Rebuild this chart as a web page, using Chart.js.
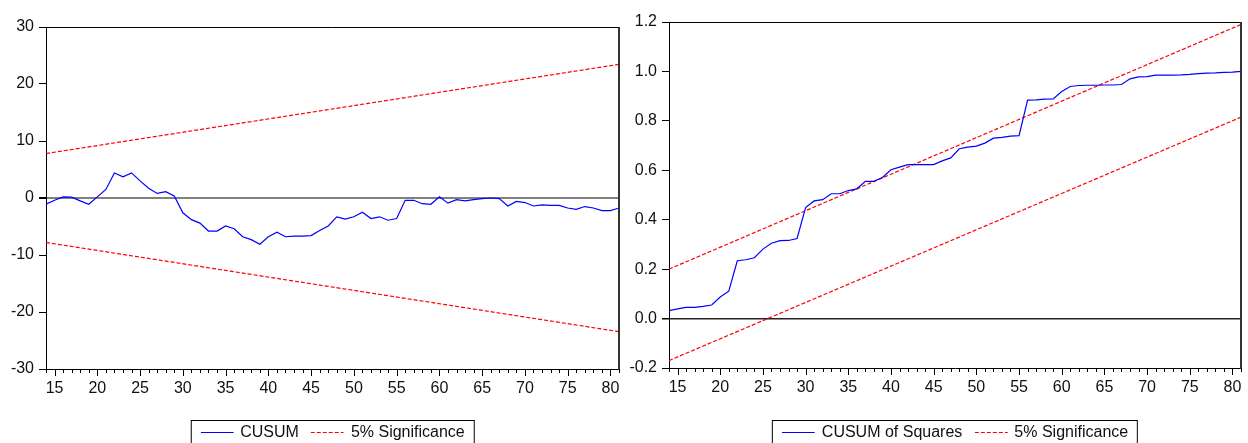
<!DOCTYPE html>
<html>
<head>
<meta charset="utf-8">
<title>CUSUM tests</title>
<script src="https://cdn.jsdelivr.net/npm/chart.js@4/dist/chart.umd.min.js"></script>
<style>
  body { margin: 0; background: #fff; }
  #wrap { position: relative; width: 1248px; height: 443px; overflow: hidden; }
  .panel { position: absolute; top: 0; width: 624px; height: 443px; }
  .legend {
    position: absolute;
    top: 420px;
    height: 40px;
    transform: translateX(-50%);
    border: 1px solid #000;
    box-sizing: border-box;
    padding: 1px 9px 0 9px;
    display: flex;
    white-space: nowrap;
    font: 16px Arial, "Liberation Sans", sans-serif;
    line-height: 19px;
    color: #111;
  }
  .legend-item { display: flex; align-items: center; height: 19px; margin-right: 12px; }
  .legend-item:last-child { margin-right: 0; }
  .legend-swatch { display: block; width: 33px; height: 18px; margin-right: 7px; }
</style>
</head>
<body>
<div id="wrap">
  <div class="panel" style="left:0"><canvas id="cusumChart" width="624" height="443"></canvas></div>
  <div class="panel" style="left:624px"><canvas id="cusumSqChart" width="624" height="443"></canvas></div>
  <div class="legend" id="cusumLegend"></div>
  <div class="legend" id="cusumSqLegend"></div>
</div>

<script>
// =============== DATA ===============

// observation index on the x axis
const obs = [
  14, 15, 16, 17, 18, 19, 20, 21, 22, 23, 24, 25, 26, 27, 28, 29, 30,
  31, 32, 33, 34, 35, 36, 37, 38, 39, 40, 41, 42, 43, 44, 45, 46, 47,
  48, 49, 50, 51, 52, 53, 54, 55, 56, 57, 58, 59, 60, 61, 62, 63, 64,
  65, 66, 67, 68, 69, 70, 71, 72, 73, 74, 75, 76, 77, 78, 79, 80, 81,
];

// CUSUM (left panel)
const cusum = [
  -1.1, -0.4, 0.2, 0.15, -0.5, -1.1, 0.2, 1.5, 4.4, 3.7, 4.4, 3.0, 1.7, 0.8, 1.1, 0.35, -2.6,
  -3.8, -4.4, -5.8, -5.8, -4.9, -5.4, -6.8, -7.3, -8.1, -6.8, -6.0, -6.8, -6.7, -6.7, -6.6, -5.7, -4.9,
  -3.3, -3.7, -3.3, -2.5, -3.6, -3.3, -3.9, -3.6, -0.4, -0.4, -1.0, -1.1, 0.2, -0.9, -0.3, -0.5, -0.3,
  -0.1, 0.0, -0.1, -1.4, -0.6, -0.8, -1.4, -1.2, -1.3, -1.3, -1.75, -2.0, -1.5, -1.75, -2.2, -2.2, -1.75,
];

// CUSUM of squares (right panel)
const cusumSq = [
  0.032, 0.039, 0.045, 0.045, 0.049, 0.055, 0.087, 0.111, 0.234, 0.238, 0.246, 0.281, 0.305, 0.315, 0.316, 0.324, 0.449,
  0.476, 0.481, 0.505, 0.505, 0.518, 0.525, 0.555, 0.555, 0.571, 0.602, 0.613, 0.623, 0.623, 0.623, 0.623, 0.638, 0.65,
  0.687, 0.694, 0.698, 0.71, 0.73, 0.733, 0.738, 0.74, 0.884, 0.885, 0.888, 0.889, 0.919, 0.939, 0.943, 0.944, 0.944,
  0.945, 0.945, 0.947, 0.97, 0.978, 0.979, 0.985, 0.985, 0.985, 0.986, 0.988, 0.991, 0.993, 0.994, 0.996, 0.997, 1.0,
];

// 5% significance bands (straight lines, first and last observation)
const bandObs = [14, 81];
const cusumUpper = [7.8, 23.45];
const cusumLower = [-7.8, -23.45];
const cusumSqUpper = [0.2, 1.19];
const cusumSqLower = [-0.17, 0.815];

// axis ranges / tick labels
const cusumTicks = [-30, -20, -10, 0, 10, 20, 30];
const cusumSqTicks = [-0.2, 0.0, 0.2, 0.4, 0.6, 0.8, 1.0, 1.2];

const LINE_BLUE = "#0000ff";
const BAND_RED = "#ff0000";


// =============== HELPERS ===============

Chart.defaults.font.family = "Arial, 'Liberation Sans', sans-serif";
Chart.defaults.font.size = 16;
Chart.defaults.color = "#111";

function toPoints(xs, ys) {
  return xs.map((x, i) => ({ x, y: ys[i] }));
}

// frame on top / right + short minor ticks on the x axis
const frameAndTicks = {
  id: "frameAndTicks",
  afterDraw(chart) {
    const { ctx, chartArea: a, scales } = chart;
    ctx.save();
    ctx.strokeStyle = "#000";
    ctx.lineWidth = 1;
    ctx.beginPath();
    ctx.moveTo(a.left, Math.round(a.top) + 0.5);
    ctx.lineTo(a.right, Math.round(a.top) + 0.5);
    ctx.stroke();

    ctx.strokeStyle = "#333";
    ctx.lineWidth = 2;
    ctx.beginPath();
    ctx.moveTo(Math.round(a.right), a.top);
    ctx.lineTo(Math.round(a.right), a.bottom + 1);
    ctx.stroke();

    ctx.strokeStyle = "#000";
    ctx.lineWidth = 1;
    scales.x.ticks.forEach((t) => {
      const px = Math.round(scales.x.getPixelForValue(t.value)) + 0.5;
      const len = t.value % 5 === 0 ? 7 : 4;
      ctx.beginPath();
      ctx.moveTo(px, a.bottom);
      ctx.lineTo(px, a.bottom + len);
      ctx.stroke();
    });
    ctx.restore();
  },
};

function makeOptions(cfg) {
  return {
    responsive: false,
    animation: false,
    layout: { padding: { top: cfg.top, right: cfg.right, left: 0, bottom: 0 } },
    plugins: { legend: { display: false }, tooltip: { enabled: false } },
    elements: { point: { radius: 0 }, line: { tension: 0 } },
    scales: {
      x: {
        type: "linear",
        min: 14,
        max: 81,
        afterFit: (s) => { s.height = cfg.xHeight; },
        border: { display: true, color: "#000", width: 1 },
        grid: { drawOnChartArea: false, tickLength: 7, tickColor: "transparent" },
        ticks: {
          stepSize: 1,
          autoSkip: false,
          maxRotation: 0,
          padding: 3,
          callback: (v) => (v % 5 === 0 ? String(v) : ""),
        },
      },
      y: {
        min: cfg.ticks[0],
        max: cfg.ticks[cfg.ticks.length - 1],
        afterFit: (s) => { s.width = cfg.yWidth; },
        afterBuildTicks: (s) => { s.ticks = cfg.ticks.map((v) => ({ value: v })); },
        border: { display: true, color: "#000", width: 1 },
        grid: {
          tickLength: 7,
          tickColor: "#000",
          color: (c) => (Math.abs(c.tick.value) < 1e-9 ? cfg.zeroColor : "transparent"),
          lineWidth: (c) => (Math.abs(c.tick.value) < 1e-9 ? cfg.zeroWidth : 1),
        },
        ticks: { padding: 5, callback: cfg.fmt },
      },
    },
  };
}

// small svg line sample for the legend
function swatchSvg(color, dashed) {
  const dash = dashed ? ' stroke-dasharray="4 2"' : "";
  return `<svg width="33" height="18" xmlns="http://www.w3.org/2000/svg">` +
    `<line x1="0" y1="9.5" x2="33" y2="9.5" stroke="${color}" stroke-width="1"${dash}/></svg>`;
}

function buildLegend(chart, el, panelLeft) {
  const seen = new Set();
  el.innerHTML = "";
  chart.data.datasets.forEach((ds) => {
    if (seen.has(ds.label)) return;
    seen.add(ds.label);
    const item = document.createElement("span");
    item.className = "legend-item";
    const swatch = document.createElement("span");
    swatch.className = "legend-swatch";
    swatch.innerHTML = swatchSvg(ds.swatchColor, ds.swatchDashed);
    const text = document.createElement("span");
    text.textContent = ds.label;
    item.appendChild(swatch);
    item.appendChild(text);
    el.appendChild(item);
  });
  const a = chart.chartArea;
  el.style.left = panelLeft + (a.left + a.right) / 2 + "px";
}

function lineSet(label, data, color, dashed) {
  return {
    label,
    data,
    borderColor: color,
    borderWidth: 1.2,
    borderDash: dashed ? [4, 2] : [],
    fill: false,
    swatchColor: color,
    swatchDashed: dashed,
  };
}


// =============== CUSUM CHART ===============

function loadCusumChart() {
  const chart = new Chart(document.getElementById("cusumChart"), {
    type: "line",
    data: {
      datasets: [
        lineSet("CUSUM", toPoints(obs, cusum), LINE_BLUE, false),
        lineSet("5% Significance", toPoints(bandObs, cusumUpper), BAND_RED, true),
        lineSet("5% Significance", toPoints(bandObs, cusumLower), BAND_RED, true),
      ],
    },
    options: makeOptions({
      top: 27, right: 5, xHeight: 74, yWidth: 46,
      ticks: cusumTicks, zeroColor: "#808080", zeroWidth: 2,
      fmt: (v) => String(v),
    }),
    plugins: [frameAndTicks],
  });
  buildLegend(chart, document.getElementById("cusumLegend"), 0);
}


// =============== CUSUM OF SQUARES CHART ===============

function loadCusumSqChart() {
  const chart = new Chart(document.getElementById("cusumSqChart"), {
    type: "line",
    data: {
      datasets: [
        lineSet("CUSUM of Squares", toPoints(obs, cusumSq), LINE_BLUE, false),
        lineSet("5% Significance", toPoints(bandObs, cusumSqUpper), BAND_RED, true),
        lineSet("5% Significance", toPoints(bandObs, cusumSqLower), BAND_RED, true),
      ],
    },
    options: makeOptions({
      top: 22, right: 7, xHeight: 75, yWidth: 45,
      ticks: cusumSqTicks, zeroColor: "#222", zeroWidth: 1.5,
      fmt: (v) => Number(v).toFixed(1),
    }),
    plugins: [frameAndTicks],
  });
  buildLegend(chart, document.getElementById("cusumSqLegend"), 624);
}


// =============== INIT ===============

document.addEventListener("DOMContentLoaded", () => {
  loadCusumChart();
  loadCusumSqChart();
});
</script>
</body>
</html>
